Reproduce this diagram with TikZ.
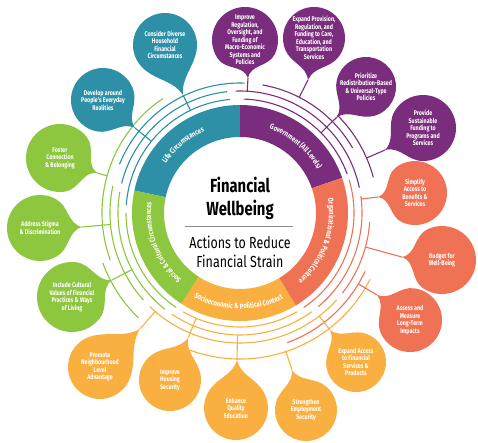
\documentclass[tikz,border=0pt]{standalone}
\usepackage{fontspec}
\newfontfamily\condfont{Fira Sans}[FakeStretch=0.78]
\usetikzlibrary{calc}
\usetikzlibrary{decorations.text}

\definecolor{lifeteal}{HTML}{2D90A7}
\definecolor{govpurple}{HTML}{7A2D7C}
\definecolor{orgorange}{HTML}{F07255}
\definecolor{socyellow}{HTML}{FAB040}
\definecolor{culgreen}{HTML}{8DC63F}

\begin{document}
\begin{tikzpicture}[x=1pt,y=1pt,
  arcline/.style={line width=1.1pt},
  connector/.style={line width=1.1pt},
  petaltext/.style={text=white,align=center,inner sep=0pt,font=\condfont\bfseries\fontsize{6.8}{7.5}\selectfont},
  ringlabel/.style={decorate,decoration={text along path,text align=center,text color=white,
    text={|\condfont\bfseries\fontsize{7.6}{8}\selectfont|#1}}}]
\path[use as bounding box,fill=white] (-240,-229) rectangle (238,213);
% ring of the five areas
\foreach \a/\b/\col in {90/168/lifeteal,19/90/govpurple,-59/19/orgorange,-123/-59/socyellow,-192/-123/culgreen}
  \fill[\col] (\a:76) arc[start angle=\a,end angle=\b,radius=76] -- (\b:108)
    arc[start angle=\b,end angle=\a,radius=108] -- cycle;
\path[ringlabel={Life Circumstances}] (180:89) arc[start angle=180,end angle=80,radius=89];
\path[ringlabel={Government (All Levels)}] (100:89) arc[start angle=100,end angle=0,radius=89];
\path[ringlabel={Organizational {\&} Political Culture}] (40:89) arc[start angle=40,end angle=-80,radius=89];
\path[ringlabel={Socioeconomic {\&} Political Context}] (214:96) arc[start angle=214,end angle=324,radius=96];
\path[ringlabel={Social {\&} Cultural Circumstances}] (256:89) arc[start angle=256,end angle=146,radius=89];
% centre
\node[anchor=base,font=\condfont\bfseries\fontsize{19}{23}\selectfont] (title-a) at (0,21) {Financial};
\node[anchor=base,font=\condfont\bfseries\fontsize{19}{23}\selectfont] (title-b) at (0,-2) {Wellbeing};
\draw[black!45,line width=1pt] (-55,-13) -- (53,-13);
\node[anchor=base,font=\condfont\fontsize{16}{19}\selectfont] (sub-a) at (0,-35) {Actions to Reduce};
\node[anchor=base,font=\condfont\fontsize{16}{19}\selectfont] (sub-b) at (0,-54) {Financial Strain};
% arcs round the ring
\foreach \rr/\a/\b/\col in {114/95/176/lifeteal,114/180/236/culgreen,114/240/300/socyellow,114/304/377/orgorange,114/20/88/govpurple,
  122/12/92/govpurple,122/96/166/lifeteal,122/170/232/culgreen,122/236/306/socyellow,122/310/368/orgorange,
  130/88/158/lifeteal,130/168/222/culgreen,130/226/318/socyellow,130/322/356/orgorange,130/30/80/govpurple,
  138/124/200/culgreen,138/290/335/orgorange,138/15/45/govpurple,
  146/250/333/socyellow,146/200/226/culgreen}
  \draw[\col,arcline] (\a:\rr) arc[start angle=\a,end angle=\b,radius=\rr];
% petals
\foreach \nm/\cx/\cy/\rad/\tx/\ty/\fr/\col/\txt in {
  consider/-75/168/32/-57/118/114/lifeteal/{Consider Diverse\\Household\\Financial\\Circumstances},
  develop/-137/113/32/-105/85/114/lifeteal/{Develop around\\People's Everyday\\Realities},
  foster/-180/55/34/-143/40/138/culgreen/{Foster\\Connection\\\& Belonging},
  address/-200/-15/33/-158/-14/130/culgreen/{Address Stigma\\\& Discrimination},
  include/-168/-84/35/-128/-67/122/culgreen/{Include Cultural\\Values of Financial\\Practices \& Ways\\of Living},
  promote/-140/-154/32/-100/-116/130/socyellow/{Promote\\Neighbourhood\\Level\\Advantage},
  housing/-70/-167/31/-52/-125/114/socyellow/{Improve\\Housing\\Security},
  enhance/-4/-195/32/-3/-147/122/socyellow/{Enhance\\Quality\\Education},
  strengthen/66/-197/31/52/-157/146/socyellow/{Strengthen\\Employment\\Security},
  access/116/-149/30/90/-117/130/socyellow/{Expand Access\\to Financial\\Services \&\\Products},
  assess/170/-107/32/137/-82/138/orgorange/{Assess and\\Measure\\Long-Term\\Impacts},
  budget/202/-47/34/162/-44/130/orgorange/{Budget for\\Well-Being},
  simplify/175/20/32/138/16/122/orgorange/{Simplify\\Access to\\Benefits \&\\Services},
  provide/183/85/33/145/63/138/govpurple/{Provide\\Sustainable\\Funding to\\Programs and\\Services},
  prioritize/126/126/30/97/96/114/govpurple/{Prioritize\\Redistribution-Based\\\& Universal-Type\\Policies},
  provision/74/175/31/68/133/130/govpurple/{Expand Provision,\\Regulation, and\\Funding to Care,\\Education, and\\Transportation\\Services},
  regulate/5/173/33/8/135/122/govpurple/{Improve\\Regulation,\\Oversight, and\\Funding of\\Macro-Economic\\Systems and\\Policies}}{
  \coordinate (\nm-tip) at (\tx,\ty);
  \coordinate (\nm-foot) at ($(0,0)!\fr pt!(\nm-tip)$);
  \draw[\col,connector] (\nm-foot) -- (\nm-tip);
  \fill[\col] let \p1=($(\nm-tip)-(\cx,\cy)$), \n1={atan2(\y1,\x1)} in
    ($(\cx,\cy)+(\n1+60:\rad)$) arc[start angle=\n1+60,end angle=\n1+300,radius=\rad]
    to[out=\n1+30,in=\n1+195] (\nm-tip)
    to[out=\n1+165,in=\n1+330] ($(\cx,\cy)+(\n1+60:\rad)$) -- cycle;
  \node[petaltext] (\nm) at (\cx,\cy) {\txt};
}
\end{tikzpicture}
\end{document}
